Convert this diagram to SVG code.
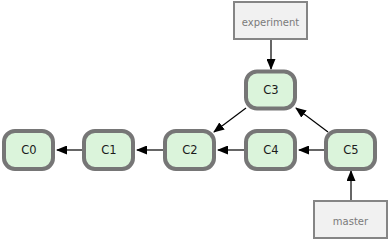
<svg xmlns="http://www.w3.org/2000/svg" width="390" height="240" viewBox="0 0 390 240">
<defs>
<marker id="ah" markerWidth="11" markerHeight="9" refX="10" refY="4.5" orient="auto" markerUnits="userSpaceOnUse">
<path d="M0,0 L11,4.5 L0,9 Z" fill="#000"/>
</marker>
<style>
.c rect{fill:#dbf4db;stroke:#767676;stroke-width:4}
.c text{font-family:"DejaVu Sans",sans-serif;font-size:11.5px;fill:#1a1a1a;text-anchor:middle}
.l rect{fill:#f1f1f1;stroke:#858585;stroke-width:2}
.l text{font-family:"DejaVu Sans",sans-serif;font-size:10px;fill:#7a7a7a;text-anchor:middle}
.e line{stroke:#000;stroke-width:1.2;marker-end:url(#ah)}
.e line.g{stroke:#666;stroke-width:2}
</style>
</defs>
<g class="e" id="edges">
<line x1="82" y1="150" x2="57" y2="150"/>
<line x1="163" y1="150" x2="137" y2="150"/>
<line x1="244" y1="150" x2="218" y2="150"/>
<line x1="324" y1="150" x2="299" y2="150"/>
<line x1="328" y1="132" x2="296" y2="108"/>
<line x1="246" y1="108" x2="214" y2="132"/>
<line class="g" x1="271" y1="40" x2="271" y2="69"/>
<line class="g" x1="351" y1="200" x2="351" y2="171"/>
</g>
<g class="c" id="C0"><rect x="4" y="131" width="49" height="38" rx="11"/><text x="29" y="154">C0</text></g>
<g class="c" id="C1"><rect x="84" y="131" width="49" height="38" rx="11"/><text x="109" y="154">C1</text></g>
<g class="c" id="C2"><rect x="165" y="131" width="49" height="38" rx="11"/><text x="190" y="154">C2</text></g>
<g class="c" id="C4"><rect x="246" y="131" width="49" height="38" rx="11"/><text x="271" y="154">C4</text></g>
<g class="c" id="C5"><rect x="326" y="131" width="49" height="38" rx="11"/><text x="351" y="154">C5</text></g>
<g class="c" id="C3"><rect x="246" y="71.5" width="49" height="37" rx="11"/><text x="271" y="94">C3</text></g>
<g class="l" id="experiment"><rect x="234" y="2" width="73" height="37"/><text x="270.5" y="26">experiment</text></g>
<g class="l" id="master"><rect x="314" y="201" width="73" height="37"/><text x="350.5" y="224.5">master</text></g>
</svg>
